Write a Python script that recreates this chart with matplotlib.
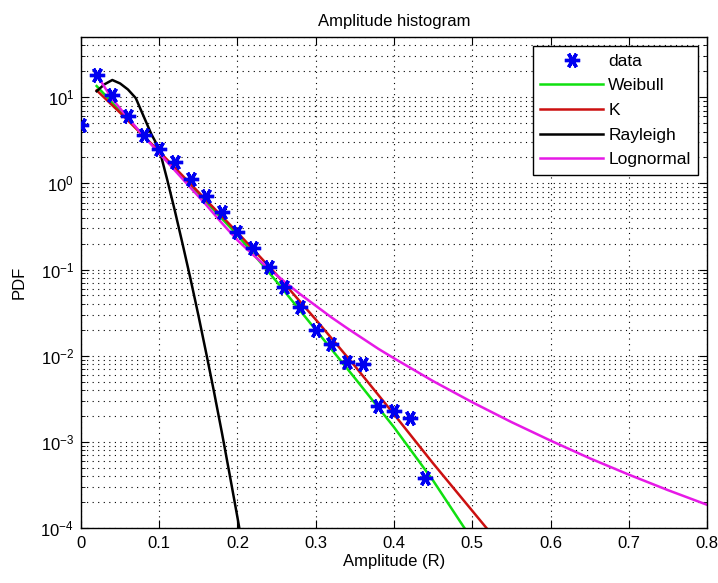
import numpy as np
import matplotlib
matplotlib.use("Agg")
import matplotlib.pyplot as plt
from matplotlib.ticker import LogLocator, NullFormatter, FixedLocator

plt.rcParams['font.family'] = ['Liberation Sans', 'DejaVu Sans']

# Empirical amplitude histogram (PDF estimate)
data_x = [0.00, 0.02, 0.04, 0.06, 0.08, 0.10, 0.12, 0.14, 0.16, 0.18, 0.20, 0.22,
          0.24, 0.26, 0.28, 0.30, 0.32, 0.34, 0.36, 0.38, 0.40, 0.42, 0.44]
data_pdf = [4.7, 18.0, 10.5, 6.0, 3.6, 2.5, 1.78, 1.13, 0.71, 0.47, 0.27, 0.18,
            0.107, 0.063, 0.037, 0.020, 0.0138, 0.0085, 0.0081, 0.0026, 0.0023, 0.0019, 0.00038]

# Fitted model curves, stored as log10(PDF)
weibull_x = [0.02, 0.05, 0.10, 0.15, 0.20, 0.25, 0.30, 0.35, 0.40, 0.45, 0.49, 0.50]
weibull_log = [1.13, 0.84, 0.36, -0.12, -0.60, -1.14, -1.70, -2.26, -2.83, -3.45, -4.00, -4.14]

k_x = [0.02, 0.05, 0.10, 0.15, 0.20, 0.25, 0.30, 0.35, 0.40, 0.45, 0.50, 0.52, 0.53]
k_log = [1.08, 0.82, 0.37, -0.10, -0.57, -1.06, -1.58, -2.12, -2.68, -3.25, -3.80, -4.02, -4.13]

rayleigh_x = [0.02, 0.03, 0.04, 0.05, 0.06, 0.07, 0.08, 0.09, 0.10, 0.11, 0.12, 0.13,
              0.14, 0.15, 0.16, 0.17, 0.18, 0.19, 0.20, 0.21]
rayleigh_log = [1.07, 1.15, 1.20, 1.16, 1.09, 0.99, 0.78, 0.57, 0.40, 0.05, -0.32, -0.71,
                -1.11, -1.53, -1.97, -2.42, -2.89, -3.38, -3.88, -4.40]

lognormal_x = [0.02, 0.04, 0.06, 0.08, 0.10, 0.12, 0.14, 0.16, 0.18, 0.20, 0.22, 0.24,
               0.26, 0.28, 0.30, 0.32, 0.34, 0.36, 0.38, 0.40, 0.45, 0.50, 0.55, 0.60,
               0.65, 0.70, 0.75, 0.80]
lognormal_log = [1.26, 0.98, 0.76, 0.55, 0.35, 0.15, -0.05, -0.25, -0.46, -0.66, -0.83, -0.99,
                 -1.14, -1.285, -1.42, -1.555, -1.68, -1.80, -1.92, -2.03, -2.295, -2.54, -2.77, -2.985,
                 -3.19, -3.38, -3.56, -3.73]

x_ticks = [0.0, 0.1, 0.2, 0.3, 0.4, 0.5, 0.6, 0.7, 0.8]
x_tick_labels = ['0', '0.1', '0.2', '0.3', '0.4', '0.5', '0.6', '0.7', '0.8']

fig = plt.figure(figsize=(7.18, 5.83), dpi=100)
ax = fig.add_axes([0.1128, 0.0943, 0.8719, 0.8422])

ax.plot(data_x, data_pdf, linestyle='none', marker=(6, 2, 90), markersize=11,
        markeredgewidth=2.4, color='#0000f0', label='data', zorder=5)
ax.plot(weibull_x, 10.0 ** np.array(weibull_log), color='#10e010', lw=1.8, label='Weibull')
ax.plot(k_x, 10.0 ** np.array(k_log), color='#cc1010', lw=1.8, label='K')
ax.plot(rayleigh_x, 10.0 ** np.array(rayleigh_log), color='black', lw=1.8, label='Rayleigh')
ax.plot(lognormal_x, 10.0 ** np.array(lognormal_log), color='#e619e6', lw=1.8, label='Lognormal')

ax.set_yscale('log')
ax.set_xlim(0, 0.8)
ax.set_ylim(1e-4, 50)
ax.xaxis.set_major_locator(FixedLocator(x_ticks))
ax.set_xticklabels(x_tick_labels)
ax.yaxis.set_major_locator(LogLocator(base=10, numticks=20))
ax.yaxis.set_minor_locator(LogLocator(base=10, subs=np.arange(2, 10), numticks=50))
ax.yaxis.set_minor_formatter(NullFormatter())

ax.grid(True, which='major', linestyle=(0, (1, 4)), color='black', lw=0.8)
ax.grid(True, which='minor', axis='y', linestyle=(0, (1, 4)), color='black', lw=0.8)

ax.tick_params(which='both', direction='in', top=True, right=True, labelsize=12)
ax.tick_params(axis='x', which='major', pad=6)
ax.tick_params(axis='y', which='major', pad=5)
ax.tick_params(which='major', length=6)
ax.tick_params(which='minor', length=3)
for s in ax.spines.values():
    s.set_linewidth(1.0)

ax.set_title('Amplitude histogram', fontsize=12, pad=8)
ax.set_xlabel('Amplitude (R)', fontsize=12, labelpad=2)
ax.set_ylabel('PDF', fontsize=12, labelpad=10)

leg = ax.legend(loc='upper right', fontsize=12.5, frameon=True, fancybox=False,
                edgecolor='black', framealpha=1, borderaxespad=0.5,
                handlelength=3.6, handletextpad=0.3, labelspacing=0.55, borderpad=0.45)
leg.get_frame().set_linewidth(1.0)

fig.savefig('out.png', dpi=100)
